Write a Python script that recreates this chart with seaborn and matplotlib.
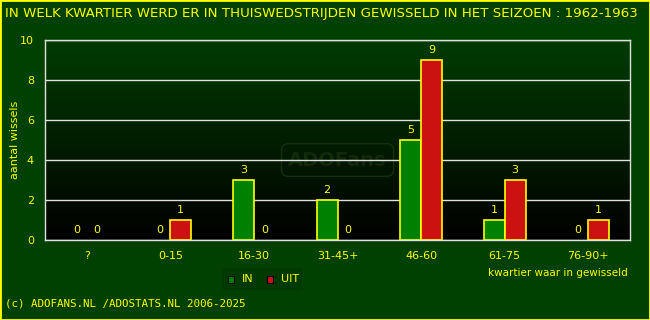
import matplotlib
matplotlib.use("Agg")
import matplotlib.pyplot as plt
import seaborn as sns
import numpy as np
import pandas as pd
from matplotlib.patches import Rectangle
from matplotlib.colors import LinearSegmentedColormap

categories = ["?", "0-15", "16-30", "31-45+", "46-60", "61-75", "76-90+"]
in_values = [0, 0, 3, 2, 5, 1, 0]
uit_values = [0, 1, 0, 0, 9, 3, 1]
series = ["IN", "UIT"]
yticks = [0, 2, 4, 6, 8, 10]

df = pd.DataFrame({
    "kwartier": categories * 2,
    "wissels": in_values + uit_values,
    "type": ["IN"] * len(categories) + ["UIT"] * len(categories),
})

sns.set_theme(style="white")
plt.rcParams['font.family'] = ['DejaVu Sans']

BG = "#004000"
YEL = "#ffff00"
GREEN = "#008000"
RED = "#cc1111"
fig = plt.figure(figsize=(6.5, 3.2), dpi=100, facecolor=BG)
ax = fig.add_axes([45/650, 80/320, 585/650, 200/320])
ax.set_facecolor("black")

# gradient background
grad = np.linspace(0, 1, 256).reshape(-1, 1)
cmap = LinearSegmentedColormap.from_list("g", ["#000000", "#003c00"])
ax.imshow(grad, aspect="auto", cmap=cmap, origin="lower",
          extent=[-0.5, len(categories) - 0.5, 0, 10], zorder=0)

sns.barplot(data=df, x="kwartier", y="wissels", hue="type", order=categories,
            hue_order=series, palette={"IN": GREEN, "UIT": RED},
            saturation=1, width=0.5, edgecolor=YEL, linewidth=1.2, ax=ax,
            zorder=3, legend=False)

ax.set_xlim(-0.5, len(categories) - 0.5)
ax.set_ylim(0, 10)
ax.set_yticks(yticks)
ax.yaxis.grid(True, color="#e0e0e0", linewidth=1.0, zorder=1)
ax.set_axisbelow(False)
for s in ax.spines.values():
    s.set_color("#e0e0e0")
    s.set_linewidth(1.0)
    s.set_zorder(6)
ax.tick_params(axis="both", colors=YEL, labelsize=8, length=0, pad=8)
ax.tick_params(axis="x", pad=8)
ax.set_xlabel("")
ax.set_ylabel("aantal wissels", color=YEL, fontsize=8)
ax.yaxis.set_label_coords(-25/585, 0.5)

for cont in ax.containers:
    for bar in cont:
        h = bar.get_height()
        if h == 0:
            bar.set_visible(False)
        ax.text(bar.get_x() + bar.get_width() / 2, h + 0.25, f"{int(h)}",
                ha="center", va="bottom", color=YEL, fontsize=8, zorder=5)

# watermark
ax.text(3.0, 4.0, "ADOFans", ha="center", va="center", fontsize=14,
        fontweight="bold", color="#122a0a", zorder=2,
        bbox=dict(boxstyle="round,pad=0.35", fc="none", ec="#16300d", lw=1))

fig.text(5/650, 1 - 13/320, "IN WELK KWARTIER WERD ER IN THUISWEDSTRIJDEN GEWISSELD IN HET SEIZOEN : 1962-1963",
         color=YEL, fontsize=9.65, ha="left", va="center")
fig.text(488/650, 1 - 273/320, "kwartier waar in gewisseld", color=YEL, fontsize=7.5,
         ha="left", va="center")
fig.text(5/650, 1 - 304/320, "(c) ADOFANS.NL /ADOSTATS.NL 2006-2025", color=YEL,
         fontsize=7.8, family="DejaVu Sans Mono", ha="left", va="center")

# legend
fig.patches.append(Rectangle((222/650, 1 - 290/320), 80/650, 22/320,
                             transform=fig.transFigure, fc="#003a00", ec="none"))
for i, (lab, col) in enumerate(zip(series, [GREEN, RED])):
    x0 = 228 + i * 39
    fig.patches.append(Rectangle((x0/650, 1 - 283/320), 6/650, 7/320,
                                 transform=fig.transFigure, fc=col, ec="black", lw=0.8))
    fig.text((x0 + 14)/650, 1 - 279/320, lab, color=YEL, fontsize=8, va="center")

# border
fig.patches.append(Rectangle((0, 0), 1, 1, transform=fig.transFigure, fill=False,
                             ec=YEL, lw=2))

fig.savefig("out.png", dpi=100, facecolor=BG)
